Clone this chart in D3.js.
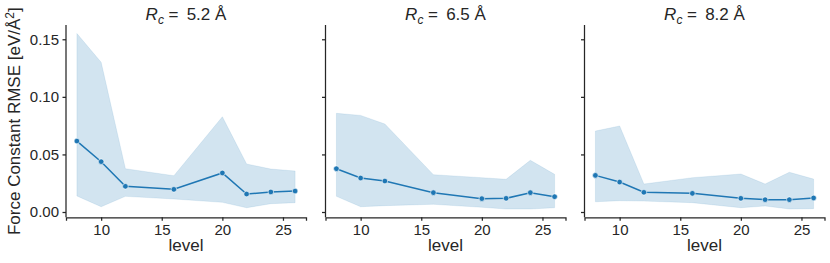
<!DOCTYPE html>
<html>
<head>
<meta charset="utf-8">
<script src="https://cdn.jsdelivr.net/npm/d3@7"></script>
<style>
  body { margin: 0; background: #fff; }
  svg { font-family: "Liberation Sans", Arial, sans-serif; }
</style>
</head>
<body>
<div id="viz"></div>
<script>
var width = 830,
    height = 263;

// levels on the x axis
var levels = [8, 10, 12, 16, 20, 22, 24, 26];

// cutoff radius of each panel
var cutoffs = ["5.2", "6.5", "8.2"];

// mean RMSE per level, one array per panel
var mean52 = [0.0616, 0.0437, 0.0223, 0.0197, 0.0339, 0.0156, 0.0174, 0.0182];
var mean65 = [0.0376, 0.0295, 0.0269, 0.0168, 0.0116, 0.0119, 0.0168, 0.0133];
var mean82 = [0.0318, 0.0260, 0.0171, 0.0162, 0.0119, 0.0107, 0.0107, 0.0122];

// band (upper and lower edge)
var upper52 = [0.155, 0.130, 0.0376, 0.0315, 0.0827, 0.0417, 0.0373, 0.0356];
var lower52 = [0.0139, 0.0046, 0.0136, 0.0113, 0.0084, 0.0037, 0.0072, 0.0081];
var upper65 = [0.0857, 0.0839, 0.0764, 0.0324, 0.0298, 0.0284, 0.0449, 0.0327];
var lower65 = [0.0136, 0.0046, 0.0055, 0.0067, 0.0041, 0.0026, 0.0026, 0.0037];
var upper82 = [0.0703, 0.0747, 0.0243, 0.0298, 0.0330, 0.0243, 0.0345, 0.0286];
var lower82 = [0.0089, 0.0098, 0.0095, 0.0081, 0.0037, 0.0052, 0.0026, 0.0029];

var xTicks = [10, 15, 20, 25];
var yTicks = [0, 0.05, 0.10, 0.15];

var panels = [
    {rc: cutoffs[0], mean: mean52, upper: upper52, lower: lower52},
    {rc: cutoffs[1], mean: mean65, upper: upper65, lower: lower65},
    {rc: cutoffs[2], mean: mean82, upper: upper82, lower: lower82}
];

var color = "#1f77b4";
var axisColor = "#262626";

var plotTop = 25, plotBottom = 217.3,
    panelW = 240,
    lefts = [66, 325.5, 584.5];

var svg = d3.select("div#viz")
    .append("svg")
    .attr("width", width)
    .attr("height", height);

var y = d3.scaleLinear()
    .domain([-0.0046, 0.1624])
    .range([plotBottom, plotTop]);

panels.forEach(function(p, i) {
    var x = d3.scaleLinear()
        .domain([7.1, 26.9])
        .range([0, panelW]);

    var g = svg.append("g")
        .attr("transform", "translate(" + lefts[i] + ",0)");

    var pts = levels.map(function(l, k) {
        return {x: l, m: p.mean[k], hi: p.upper[k], lo: p.lower[k]};
    });

    // shaded band
    var area = d3.area()
        .x(function(d) { return x(d.x); })
        .y0(function(d) { return y(d.lo); })
        .y1(function(d) { return y(d.hi); });

    g.append("path")
        .datum(pts)
        .attr("d", area)
        .attr("fill", color)
        .attr("fill-opacity", 0.2)
        .attr("stroke", color)
        .attr("stroke-opacity", 0.1)
        .attr("stroke-width", 1);

    // mean line
    var line = d3.line()
        .x(function(d) { return x(d.x); })
        .y(function(d) { return y(d.m); });

    g.append("path")
        .datum(pts)
        .attr("d", line)
        .attr("fill", "none")
        .attr("stroke", color)
        .attr("stroke-width", 1.5);

    g.selectAll("circle")
        .data(pts)
        .enter().append("circle")
        .attr("cx", function(d) { return x(d.x); })
        .attr("cy", function(d) { return y(d.m); })
        .attr("r", 2.8)
        .attr("fill", color)
        .attr("stroke", "#fff")
        .attr("stroke-width", 0.6);

    // x axis
    var xa = g.append("g")
        .attr("transform", "translate(0," + plotBottom + ")")
        .call(d3.axisBottom(x).tickValues(xTicks).tickSize(3.5).tickPadding(3.5));
    xa.select(".domain").attr("stroke", axisColor).attr("stroke-width", 1.25);
    xa.selectAll(".tick line").attr("stroke", axisColor).attr("stroke-width", 1.25);
    xa.selectAll("text")
        .attr("fill", axisColor)
        .style("font-size", "15px");

    // y axis
    var ya = g.append("g")
        .call(d3.axisLeft(y).tickValues(yTicks).tickSize(3.5).tickPadding(3.5)
            .tickFormat(i === 0 ? d3.format(".2f") : ""));
    ya.select(".domain").attr("stroke", axisColor).attr("stroke-width", 1.25)
        .attr("d", "M0," + plotBottom + "V" + plotTop);
    ya.selectAll(".tick line").attr("stroke", axisColor).attr("stroke-width", 1.25);
    ya.selectAll("text")
        .attr("fill", axisColor)
        .style("font-size", "15px");

    // x label
    g.append("text")
        .attr("x", panelW / 2)
        .attr("y", 251)
        .attr("text-anchor", "middle")
        .attr("fill", axisColor)
        .style("font-size", "17px")
        .text("level");

    // title
    var t = g.append("text")
        .attr("x", panelW / 2)
        .attr("y", 20)
        .attr("text-anchor", "middle")
        .attr("fill", axisColor)
        .style("font-size", "17px");
    t.append("tspan").attr("font-style", "italic").text("R");
    t.append("tspan").attr("font-style", "italic").attr("dy", 3.5).style("font-size", "12px").text("c");
    t.append("tspan").attr("dy", -3.5).text(" = \u2009" + p.rc + " \u00c5");
});

// y label
var yl = svg.append("text")
    .attr("transform", "translate(20," + ((plotTop + plotBottom) / 2) + ") rotate(-90)")
    .attr("text-anchor", "middle")
    .attr("fill", axisColor)
    .style("font-size", "17px");
yl.append("tspan").text("Force Constant RMSE [eV/\u00c5");
yl.append("tspan").attr("dy", -6).style("font-size", "12px").text("2");
yl.append("tspan").attr("dy", 6).text("]");
</script>
</body>
</html>
